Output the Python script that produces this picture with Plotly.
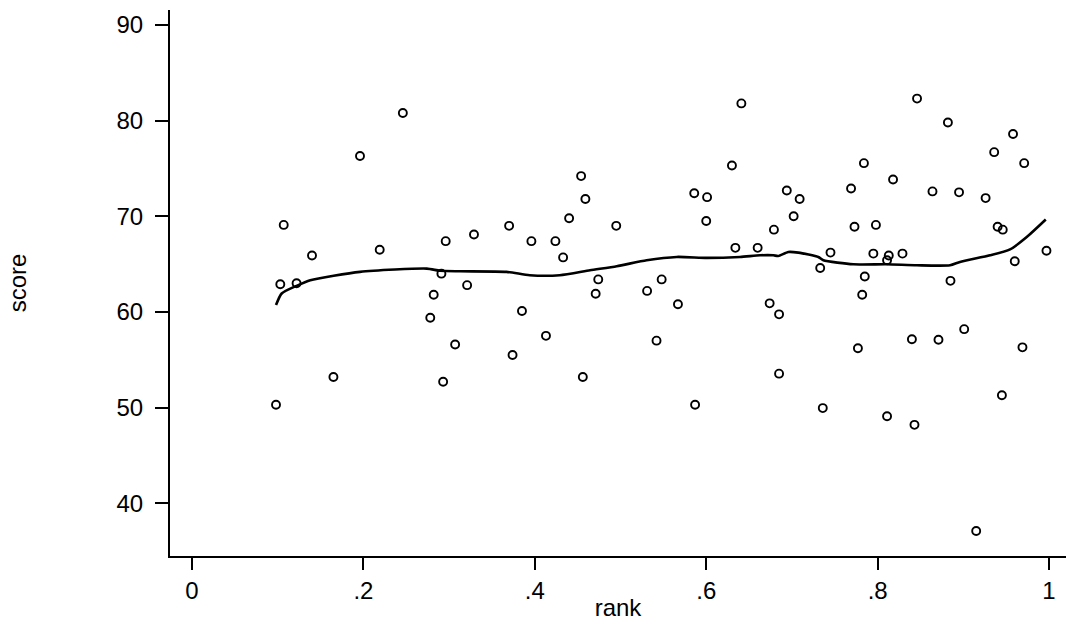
import plotly.graph_objects as go

# scatter data: rank vs score
rank = [0.098, 0.103, 0.107, 0.122, 0.140, 0.165, 0.196, 0.219, 0.246, 0.278,
        0.282, 0.291, 0.293, 0.296, 0.307, 0.321, 0.329, 0.370, 0.374, 0.385,
        0.396, 0.413, 0.424, 0.433, 0.440, 0.454, 0.456, 0.459, 0.471, 0.474,
        0.495, 0.531, 0.542, 0.548, 0.567, 0.586, 0.587, 0.600, 0.601, 0.630,
        0.634, 0.641, 0.660, 0.674, 0.679, 0.685, 0.685, 0.694, 0.702, 0.709,
        0.733, 0.736, 0.745, 0.769, 0.773, 0.777, 0.782, 0.784, 0.785, 0.795,
        0.798, 0.811, 0.811, 0.813, 0.818, 0.829, 0.840, 0.843, 0.846, 0.864,
        0.871, 0.882, 0.885, 0.895, 0.901, 0.915, 0.926, 0.936, 0.940, 0.945,
        0.946, 0.958, 0.960, 0.969, 0.971, 0.997]
score = [50.3, 62.9, 69.1, 63.0, 65.9, 53.2, 76.3, 66.5, 80.8, 59.4,
         61.8, 64.0, 52.7, 67.4, 56.6, 62.8, 68.1, 69.0, 55.5, 60.1,
         67.4, 57.5, 67.4, 65.7, 69.8, 74.2, 53.2, 71.8, 61.9, 63.4,
         69.0, 62.2, 57.0, 63.4, 60.8, 72.4, 50.3, 69.5, 72.0, 75.3,
         66.7, 81.8, 66.7, 60.9, 68.6, 59.75, 53.55, 72.7, 70.0, 71.8,
         64.6, 49.95, 66.2, 72.9, 68.9, 56.2, 61.8, 75.55, 63.7, 66.1,
         69.1, 49.1, 65.4, 65.9, 73.85, 66.1, 57.15, 48.2, 82.3, 72.6,
         57.1, 79.8, 63.25, 72.5, 58.2, 37.1, 71.9, 76.7, 68.9, 51.3,
         68.6, 78.6, 65.3, 56.3, 75.55, 66.4]

# smoothed (lowess) curve
smooth_rank = [0.098, 0.1046, 0.122, 0.138, 0.196, 0.274, 0.2894, 0.3127, 0.367,
               0.394, 0.429, 0.4644, 0.4956, 0.5305, 0.5656, 0.6006, 0.6394,
               0.6628, 0.6783, 0.684, 0.6958, 0.7075, 0.7308, 0.7367, 0.7717,
               0.8106, 0.8456, 0.8845, 0.8961, 0.9312, 0.9545, 0.974, 0.9962]
smooth_score = [60.72, 61.93, 62.73, 63.32, 64.19, 64.53, 64.3, 64.25, 64.19,
                63.84, 63.84, 64.36, 64.78, 65.4, 65.75, 65.65, 65.75,
                65.92, 65.92, 65.85, 66.27, 66.2, 65.75, 65.4, 64.98,
                64.98, 64.88, 64.88, 65.23, 65.92, 66.54, 67.83, 69.66]

x_tickvals = [0, 0.2, 0.4, 0.6, 0.8, 1]
x_ticktext = ["0", ".2", ".4", ".6", ".8", "1"]
y_tickvals = [40, 50, 60, 70, 80, 90]

fig = go.Figure()
fig.add_trace(go.Scatter(
    x=rank, y=score, mode="markers",
    marker=dict(symbol="circle-open", size=8, color="black", line=dict(width=1.9, color="black")),
    showlegend=False, hoverinfo="x+y"))
fig.add_trace(go.Scatter(
    x=smooth_rank, y=smooth_score, mode="lines",
    line=dict(color="black", width=2.6, shape="spline", smoothing=0.6),
    showlegend=False))

fig.update_layout(
    width=1066, height=621,
    margin=dict(l=170, r=0, t=10, b=62),
    paper_bgcolor="white", plot_bgcolor="white",
    font=dict(family="Liberation Sans, Arial, sans-serif", size=24, color="black"),
    xaxis=dict(range=[-0.0257, 1.0198], tickvals=x_tickvals, ticktext=x_ticktext,
               showgrid=False, zeroline=False, showline=True, linecolor="black", linewidth=2,
               ticks="outside", ticklen=12, tickwidth=2, tickcolor="black",
               title=dict(text="rank", standoff=0, font=dict(size=24))),
    yaxis=dict(range=[34.49, 91.56], tickvals=y_tickvals,
               showgrid=False, zeroline=False, showline=True, linecolor="black", linewidth=2,
               ticks="outside", ticklen=13, tickwidth=2, tickcolor="black",
               ticklabelstandoff=7,
               title=dict(text="score", standoff=83, font=dict(size=24))),
)

fig.write_html("out.html")
